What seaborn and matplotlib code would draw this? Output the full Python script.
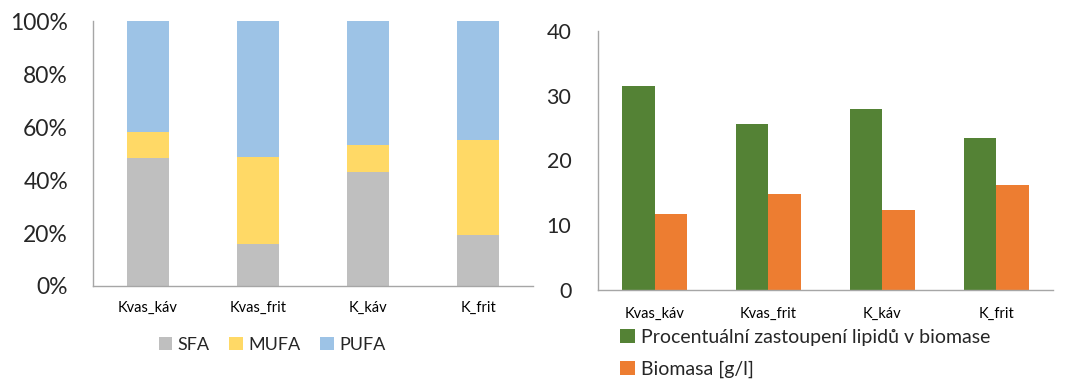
import matplotlib
matplotlib.use("Agg")
import matplotlib.pyplot as plt
import seaborn as sns
import pandas as pd
from matplotlib.patches import Patch
from matplotlib.ticker import FixedLocator, PercentFormatter

sns.set_theme(style="white")
plt.rcParams["font.family"] = ["Lato", "DejaVu Sans"]

# Fatty-acid composition per sample (percent of total)
samples = ["Kvas_káv", "Kvas_frit", "K_káv", "K_frit"]
sfa = [48.4, 15.9, 43.0, 19.2]
mufa = [9.6, 32.8, 10.2, 35.8]
pufa = [42.0, 51.3, 46.8, 45.0]

# Lipid content and biomass per sample
lipid_pct = [31.5, 25.6, 27.9, 23.5]
biomass = [11.7, 14.8, 12.4, 16.3]
series_names = ["Procentuální zastoupení lipidů v biomase", "Biomasa [g/l]"]

c_sfa, c_mufa, c_pufa = "#BFBFBF", "#FFD966", "#9DC3E6"
c_lip, c_bio = "#548235", "#ED7D31"
axis_grey = "#A6A6A6"

W, H = 1065, 380
fig = plt.figure(figsize=(W / 100, H / 100), dpi=100)
ax1 = fig.add_axes([93 / W, 1 - 286 / H, (533 - 93) / W, (286 - 21.3) / H])
ax2 = fig.add_axes([597.7 / W, 1 - 290.3 / H, (1053 - 597.7) / W, (290.3 - 30.7) / H])

# Stacked 100% bars: draw cumulative totals from the top layer down
comp = pd.DataFrame({"sample": samples, "SFA": sfa, "MUFA": mufa, "PUFA": pufa})
comp["top"] = comp["SFA"] + comp["MUFA"] + comp["PUFA"]
comp["mid"] = comp["SFA"] + comp["MUFA"]
for col, colr in [("top", c_pufa), ("mid", c_mufa), ("SFA", c_sfa)]:
    sns.barplot(data=comp, x="sample", y=col, color=colr, width=0.39,
                saturation=1, ax=ax1, linewidth=0)

# Grouped bars
grp = pd.DataFrame({
    "sample": samples * 2,
    "value": lipid_pct + biomass,
    "series": [series_names[0]] * 4 + [series_names[1]] * 4,
})
sns.barplot(data=grp, x="sample", y="value", hue="series",
            palette=[c_lip, c_bio], width=0.57, gap=0, saturation=1,
            ax=ax2, linewidth=0, legend=False)

for ax in (ax1, ax2):
    ax.set_xlim(-0.5, 3.5)
    ax.set_xlabel("")
    ax.set_ylabel("")
    for s in ("top", "right"):
        ax.spines[s].set_visible(False)
    for s in ("left", "bottom"):
        ax.spines[s].set_color(axis_grey)
        ax.spines[s].set_linewidth(1.0)
    ax.xaxis.set_minor_locator(FixedLocator([-0.5, 0.5, 1.5, 2.5, 3.5]))
    ax.tick_params(axis="x", which="major", length=0, pad=10, labelsize=10.5,
                   colors="#000000")
    ax.tick_params(axis="x", which="minor", length=6, width=1.0,
                   color=axis_grey, direction="out")
    ax.tick_params(axis="y", length=7, width=1.0, color=axis_grey,
                   direction="out", pad=2)
    ax.set_facecolor("white")

ax1.set_ylim(0, 100)
ax1.set_yticks([0, 20, 40, 60, 80, 100])
ax1.yaxis.set_major_formatter(PercentFormatter(decimals=0))
ax1.tick_params(axis="y", labelsize=16.5, pad=11)
ax1.tick_params(axis="x", pad=11)

ax2.set_ylim(0, 40)
ax2.set_yticks([0, 10, 20, 30, 40])
ax2.tick_params(axis="y", labelsize=15.5, pad=12)
ax2.tick_params(axis="x", pad=12)

# Legends
h1 = [Patch(facecolor=c, edgecolor="none") for c in (c_sfa, c_mufa, c_pufa)]
fig.legend(h1, ["SFA", "MUFA", "PUFA"], loc="center",
           bbox_to_anchor=(272 / W, 1 - 345 / H), ncol=3, frameon=False,
           fontsize=13, handlelength=0.75, handleheight=0.75,
           handletextpad=0.3, columnspacing=1.1)

h2 = [Patch(facecolor=c, edgecolor="none") for c in (c_lip, c_bio)]
fig.legend(h2, series_names, loc="upper left",
           bbox_to_anchor=(620 / W, 1 - 329 / H), ncol=1, frameon=False,
           fontsize=14, handlelength=0.75, handleheight=0.75,
           handletextpad=0.35, labelspacing=0.75, borderaxespad=0,
           borderpad=0)

fig.savefig("out.png", dpi=100, facecolor="white")
